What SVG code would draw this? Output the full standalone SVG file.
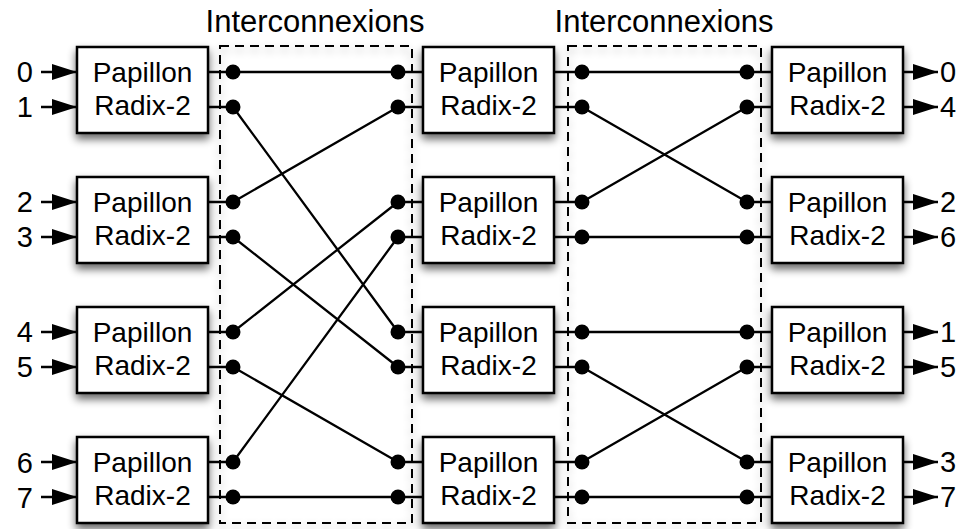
<svg xmlns="http://www.w3.org/2000/svg" width="968" height="529" viewBox="0 0 968 529">
<style>
text{font-family:"Liberation Sans",Arial,Helvetica,sans-serif;fill:#000}
.lbl{font-size:29px}
.title{font-size:31px;text-anchor:middle}
.box rect{fill:#fff;stroke:#000;stroke-width:2.5}
.box text{font-size:28px;text-anchor:middle}
.dash{fill:none;stroke:#000;stroke-width:2;stroke-dasharray:9 6}
.w{fill:none;stroke:#000;stroke-width:2.3}
.dot{fill:#000}
.arr{fill:none;stroke:#000;stroke-width:2.3;marker-end:url(#ah)}
</style>
<defs>
<filter id="sh" x="-20%" y="-20%" width="140%" height="150%">
<feGaussianBlur in="SourceAlpha" stdDeviation="4"/>
<feOffset dx="0" dy="5" result="b"/>
<feComponentTransfer><feFuncA type="linear" slope="0.6"/></feComponentTransfer>
<feMerge><feMergeNode/><feMergeNode in="SourceGraphic"/></feMerge>
</filter>
<filter id="sh2" x="-10%" y="-10%" width="120%" height="120%">
<feGaussianBlur in="SourceAlpha" stdDeviation="4"/>
<feOffset dx="0" dy="4" result="b"/>
<feComponentTransfer><feFuncA type="linear" slope="0.3"/></feComponentTransfer>
<feMerge><feMergeNode/><feMergeNode in="SourceGraphic"/></feMerge>
</filter>
<marker id="ah" markerUnits="userSpaceOnUse" markerWidth="25" markerHeight="16" refX="25" refY="8" orient="auto">
<path d="M0,0 L25,8 L0,16 z" fill="#000"/>
</marker>
</defs>

<g id="titles">
<text class="title" x="315" y="32">Interconnexions</text>
<text class="title" x="664" y="32">Interconnexions</text>
</g>

<g id="interconnect-frames">
<rect class="dash" x="220" y="46" width="192" height="477" filter="url(#sh2)"/>
<rect class="dash" x="568" y="46" width="193" height="477" filter="url(#sh2)"/>
</g>

<g id="connectors">
<g class="w">
<path d="M208,72H233M208,107H233M208,202H233M208,237H233M208,332H233M208,367H233M208,462H233M208,497H233"/>
<path d="M398,72H423M398,107H423M398,202H423M398,237H423M398,332H423M398,367H423M398,462H423M398,497H423"/>
<path d="M554,72H582M554,107H582M554,202H582M554,237H582M554,332H582M554,367H582M554,462H582M554,497H582"/>
<path d="M747,72H772M747,107H772M747,202H772M747,237H772M747,332H772M747,367H772M747,462H772M747,497H772"/>
<path d="M233,72L398,72M233,107L398,332M233,202L398,107M233,237L398,367M233,332L398,202M233,367L398,462M233,462L398,237M233,497L398,497"/>
<path d="M582,72L747,72M582,107L747,202M582,202L747,107M582,237L747,237M582,332L747,332M582,367L747,462M582,462L747,367M582,497L747,497"/>
</g>
<g class="dot">
<circle cx="233" cy="72" r="7.5"/><circle cx="233" cy="107" r="7.5"/><circle cx="233" cy="202" r="7.5"/><circle cx="233" cy="237" r="7.5"/>
<circle cx="233" cy="332" r="7.5"/><circle cx="233" cy="367" r="7.5"/><circle cx="233" cy="462" r="7.5"/><circle cx="233" cy="497" r="7.5"/>
<circle cx="398" cy="72" r="7.5"/><circle cx="398" cy="107" r="7.5"/><circle cx="398" cy="202" r="7.5"/><circle cx="398" cy="237" r="7.5"/>
<circle cx="398" cy="332" r="7.5"/><circle cx="398" cy="367" r="7.5"/><circle cx="398" cy="462" r="7.5"/><circle cx="398" cy="497" r="7.5"/>
<circle cx="582" cy="72" r="7.5"/><circle cx="582" cy="107" r="7.5"/><circle cx="582" cy="202" r="7.5"/><circle cx="582" cy="237" r="7.5"/>
<circle cx="582" cy="332" r="7.5"/><circle cx="582" cy="367" r="7.5"/><circle cx="582" cy="462" r="7.5"/><circle cx="582" cy="497" r="7.5"/>
<circle cx="747" cy="72" r="7.5"/><circle cx="747" cy="107" r="7.5"/><circle cx="747" cy="202" r="7.5"/><circle cx="747" cy="237" r="7.5"/>
<circle cx="747" cy="332" r="7.5"/><circle cx="747" cy="367" r="7.5"/><circle cx="747" cy="462" r="7.5"/><circle cx="747" cy="497" r="7.5"/>
</g>
<path class="arr" d="M41,72H77"/><path class="arr" d="M41,107H77"/>
<path class="arr" d="M41,202H77"/><path class="arr" d="M41,237H77"/>
<path class="arr" d="M41,332H77"/><path class="arr" d="M41,367H77"/>
<path class="arr" d="M41,462H77"/><path class="arr" d="M41,497H77"/>
<path class="arr" d="M903,72H938"/><path class="arr" d="M903,107H938"/>
<path class="arr" d="M903,202H938"/><path class="arr" d="M903,237H938"/>
<path class="arr" d="M903,332H938"/><path class="arr" d="M903,367H938"/>
<path class="arr" d="M903,462H938"/><path class="arr" d="M903,497H938"/>
</g>

<g id="inputs">
<text class="lbl" x="33" y="82" text-anchor="end">0</text>
<text class="lbl" x="33" y="117" text-anchor="end">1</text>
<text class="lbl" x="33" y="212" text-anchor="end">2</text>
<text class="lbl" x="33" y="247" text-anchor="end">3</text>
<text class="lbl" x="33" y="342" text-anchor="end">4</text>
<text class="lbl" x="33" y="377" text-anchor="end">5</text>
<text class="lbl" x="33" y="473" text-anchor="end">6</text>
<text class="lbl" x="33" y="508" text-anchor="end">7</text>
</g>
<g id="outputs">
<text class="lbl" x="940" y="82">0</text>
<text class="lbl" x="940" y="117">4</text>
<text class="lbl" x="940" y="212">2</text>
<text class="lbl" x="940" y="247">6</text>
<text class="lbl" x="940" y="342">1</text>
<text class="lbl" x="940" y="377">5</text>
<text class="lbl" x="940" y="472">3</text>
<text class="lbl" x="940" y="507">7</text>
</g>

<g id="b1-0" class="box"><rect x="77" y="47" width="131" height="86" filter="url(#sh)"/><text x="142.5" y="82">Papillon</text><text x="142.5" y="115">Radix-2</text></g>
<g id="b1-1" class="box"><rect x="77" y="177" width="131" height="86" filter="url(#sh)"/><text x="142.5" y="212">Papillon</text><text x="142.5" y="245">Radix-2</text></g>
<g id="b1-2" class="box"><rect x="77" y="307" width="131" height="86" filter="url(#sh)"/><text x="142.5" y="342">Papillon</text><text x="142.5" y="375">Radix-2</text></g>
<g id="b1-3" class="box"><rect x="77" y="437" width="131" height="86" filter="url(#sh)"/><text x="142.5" y="472">Papillon</text><text x="142.5" y="505">Radix-2</text></g>

<g id="b2-0" class="box"><rect x="423" y="47" width="131" height="86" filter="url(#sh)"/><text x="488.5" y="82">Papillon</text><text x="488.5" y="115">Radix-2</text></g>
<g id="b2-1" class="box"><rect x="423" y="177" width="131" height="86" filter="url(#sh)"/><text x="488.5" y="212">Papillon</text><text x="488.5" y="245">Radix-2</text></g>
<g id="b2-2" class="box"><rect x="423" y="307" width="131" height="86" filter="url(#sh)"/><text x="488.5" y="342">Papillon</text><text x="488.5" y="375">Radix-2</text></g>
<g id="b2-3" class="box"><rect x="423" y="437" width="131" height="86" filter="url(#sh)"/><text x="488.5" y="472">Papillon</text><text x="488.5" y="505">Radix-2</text></g>

<g id="b3-0" class="box"><rect x="772" y="47" width="131" height="86" filter="url(#sh)"/><text x="837.5" y="82">Papillon</text><text x="837.5" y="115">Radix-2</text></g>
<g id="b3-1" class="box"><rect x="772" y="177" width="131" height="86" filter="url(#sh)"/><text x="837.5" y="212">Papillon</text><text x="837.5" y="245">Radix-2</text></g>
<g id="b3-2" class="box"><rect x="772" y="307" width="131" height="86" filter="url(#sh)"/><text x="837.5" y="342">Papillon</text><text x="837.5" y="375">Radix-2</text></g>
<g id="b3-3" class="box"><rect x="772" y="437" width="131" height="86" filter="url(#sh)"/><text x="837.5" y="472">Papillon</text><text x="837.5" y="505">Radix-2</text></g>
</svg>
